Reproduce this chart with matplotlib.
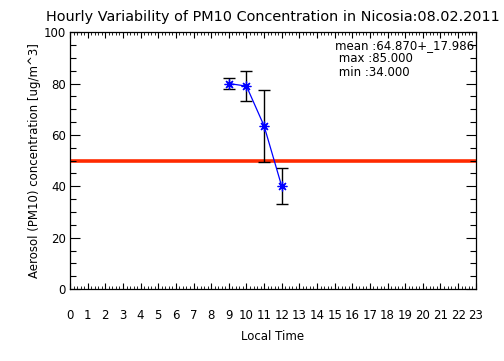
import matplotlib
matplotlib.use('Agg')
import matplotlib.pyplot as plt
from matplotlib.ticker import MultipleLocator

# hourly means and standard deviations
hours = [9, 10, 11, 12]
pm10 = [80.0, 79.0, 63.5, 40.0]
pm10_std = [2.0, 5.7, 14.0, 7.0]
limit = 50  # EU daily limit value
xticks = list(range(0, 24))
yticks = [0, 20, 40, 60, 80, 100]
stats = ["mean :64.870+_17.986", " max :85.000", " min :34.000"]

fig = plt.figure(figsize=(5.04, 3.61), dpi=100)
ax = fig.add_axes([0.139, 0.199, 0.805, 0.712])

ax.axhline(limit, color='#ff2a00', lw=2.6, zorder=1)
ax.errorbar(hours, pm10, yerr=pm10_std, fmt='none', ecolor='black',
            elinewidth=1, capsize=4, capthick=1, zorder=2)
ax.plot(hours, pm10, color='blue', lw=0.9, marker=(8, 2, 0), ms=7,
        mew=0.9, mec='blue', zorder=3)

ax.set_xlim(0, 23)
ax.set_ylim(0, 100)
ax.set_xticks(xticks)
ax.set_yticks(yticks)
ax.xaxis.set_minor_locator(MultipleLocator(0.2))
ax.yaxis.set_minor_locator(MultipleLocator(5))
ax.tick_params(axis='x', which='major', direction='in', length=4, width=0.8,
               top=True, pad=14, labelsize=8.5)
ax.tick_params(axis='x', which='minor', direction='in', length=2, width=0.6,
               top=True)
ax.tick_params(axis='y', which='major', direction='in', length=7, width=0.8,
               right=True, pad=3, labelsize=8.5)
ax.tick_params(axis='y', which='minor', direction='in', length=4, width=0.8,
               right=True)
for s in ax.spines.values():
    s.set_linewidth(0.9)

ax.set_xlabel('Local Time', fontsize=8.5, labelpad=6)
ax.set_ylabel('Aerosol (PM10) concentration [ug/m^3]', fontsize=8.5, labelpad=2)
ax.set_title('Hourly Variability of PM10 Concentration in Nicosia:08.02.2011',
             fontsize=10.4, pad=8)

for i, line in enumerate(stats):
    ax.text(0.652, 0.948 - i * 0.052, line, transform=ax.transAxes,
            fontsize=8.5, va='center', ha='left')

fig.savefig('out.png', dpi=100)
